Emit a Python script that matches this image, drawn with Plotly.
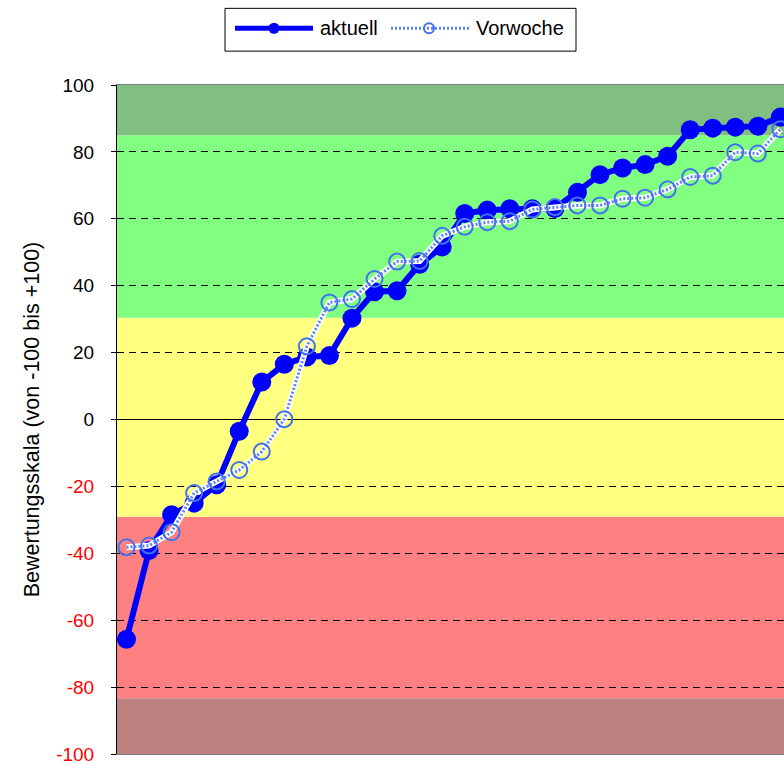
import plotly.graph_objects as go

# ---- data ----
x_idx = list(range(1, 31))
aktuell = [-65.7, -39.2, -28.5, -25.0, -19.5, -3.5, 11.2, 16.5, 18.7, 19.1,
           30.3, 38.2, 38.5, 46.4, 51.6, 61.6, 62.6, 63.0, 63.0, 63.1,
           67.9, 73.2, 75.2, 76.2, 78.7, 86.6, 87.1, 87.4, 87.7, 90.4]
vorwoche = [-38.2, -37.7, -33.7, -22.0, -18.5, -15.1, -9.6, 0.1, 21.9, 35.0,
            36.0, 42.0, 47.2, 47.4, 54.9, 57.6, 59.0, 59.3, 62.8, 63.5,
            64.0, 64.0, 66.0, 66.3, 68.8, 72.5, 72.9, 79.9, 79.5, 86.8]
tick_vals = [-100, -80, -60, -40, -20, 0, 20, 40, 60, 80, 100]
band_edges = [-100, -83.3, -29.1, 30.4, 85.0, 100]
band_colors = ["#BF8080", "#FF8080", "#FFFF80", "#80FF80", "#80BF80"]
y_title = "Bewertungsskala (von -100 bis +100)"
names = ["aktuell", "Vorwoche"]

W, H = 784, 765
ML, MR, MT, MB = 117, 0, 85, 8
PW, PH = W - ML - MR, H - MT - MB


def px(xp):
    return (xp - ML) / PW


def py(yp):
    return (H - MB - yp) / PH


fig = go.Figure()

# background bands
for i in range(len(band_colors)):
    fig.add_shape(type="rect", xref="paper", yref="y", x0=0, x1=1,
                  y0=band_edges[i], y1=band_edges[i + 1],
                  fillcolor=band_colors[i], line_width=0, layer="below")

fig.add_trace(go.Scatter(
    x=x_idx, y=aktuell, name=names[0], mode="lines+markers",
    line=dict(color="#0000FF", width=6),
    marker=dict(color="#0000FF", size=19, line=dict(width=0)),
    showlegend=False))
fig.add_trace(go.Scatter(
    x=x_idx, y=vorwoche, mode="lines", hoverinfo="skip",
    line=dict(color="#FFFFFF", width=6), showlegend=False))
fig.add_trace(go.Scatter(
    x=x_idx, y=vorwoche, name=names[1], mode="lines+markers",
    line=dict(color="#5A84F2", width=3, dash="2px,2px"),
    marker=dict(symbol="circle-open", size=16, color="#4272EE",
                line=dict(width=2, color="#4272EE")),
    showlegend=False))

# manual legend
fig.add_shape(type="rect", xref="paper", yref="paper",
              x0=px(225), x1=px(576), y0=py(8), y1=py(51),
              line=dict(color="black", width=1), fillcolor="white")
ly = py(28)
fig.add_shape(type="line", xref="paper", yref="paper", x0=px(235), x1=px(313),
              y0=ly, y1=ly, line=dict(color="#0000FF", width=5))
fig.add_shape(type="circle", xref="paper", yref="paper", xsizemode="pixel",
              ysizemode="pixel", xanchor=px(274), yanchor=ly, x0=-5.5, x1=5.5,
              y0=-5.5, y1=5.5, fillcolor="#0000FF", line_width=0)
fig.add_shape(type="line", xref="paper", yref="paper", x0=px(391), x1=px(471),
              y0=ly, y1=ly, line=dict(color="#FFFFFF", width=5))
fig.add_shape(type="line", xref="paper", yref="paper", x0=px(391), x1=px(471),
              y0=ly, y1=ly, line=dict(color="#5A84F2", width=3, dash="2px,2px"))
fig.add_shape(type="circle", xref="paper", yref="paper", xsizemode="pixel",
              ysizemode="pixel", xanchor=px(429), yanchor=ly, x0=-5, x1=5,
              y0=-5, y1=5, fillcolor="rgba(0,0,0,0)",
              line=dict(color="#4272EE", width=2))
fig.add_annotation(x=px(318), y=ly, xref="paper", yref="paper", text=names[0],
                   showarrow=False, xanchor="left", yanchor="middle",
                   font=dict(size=20, color="black"))
fig.add_annotation(x=px(474), y=ly, xref="paper", yref="paper", text=names[1],
                   showarrow=False, xanchor="left", yanchor="middle",
                   font=dict(size=20, color="black"))

tick_text = [("<span style='color:#FF0000'>%d</span>" % v) if v < 0 else str(v)
             for v in tick_vals]

fig.update_layout(
    width=W, height=H,
    margin=dict(l=ML, r=MR, t=MT, b=MB, pad=0),
    paper_bgcolor="white", plot_bgcolor="white",
    font=dict(family="Liberation Sans, Arial, sans-serif", color="black"),
    showlegend=False,
    xaxis=dict(range=[0.579, 30.16], showticklabels=False, ticks="",
               showgrid=False, zeroline=False, showline=True,
               linecolor="#808080", linewidth=1, mirror=True),
    yaxis=dict(range=[-100, 100], tickvals=tick_vals, ticktext=tick_text,
               ticks="outside", ticklen=5, tickcolor="black",
               ticklabelstandoff=13, ticklabeloverflow="allow",
               tickfont=dict(size=19, color="black"),
               showgrid=True, gridcolor="black", gridwidth=1,
               griddash="7px,5px",
               zeroline=True, zerolinecolor="black", zerolinewidth=1,
               showline=True, linecolor="black", linewidth=1,
               title=dict(text=y_title, font=dict(size=21.5), standoff=10)),
)

post = (
    "document.documentElement.style.margin='0px';"
    "document.body.style.margin='0px';"
    "document.body.style.overflow='hidden';"
    "document.documentElement.style.overflow='hidden';"
    "var gd=document.getElementById('{plot_id}');"
    "gd.style.overflow='hidden';gd.style.height='765px';"
    "gd.querySelectorAll('svg').forEach(function(s){s.style.overflow='hidden';});"
)
fig.write_html("out.html", config={"displayModeBar": False}, post_script=post)
